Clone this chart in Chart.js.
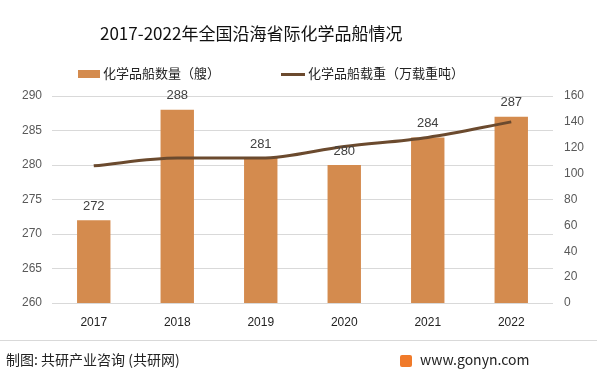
<!DOCTYPE html>
<html>
<head>
<meta charset="utf-8">
<script src="https://cdn.jsdelivr.net/npm/chart.js@4/dist/chart.umd.min.js"></script>
<style>
  html, body { margin:0; padding:0; background:#fff; }
  #wrap { position:relative; width:597px; height:374px; font-family:"Noto Sans CJK SC","Noto Sans",sans-serif; }
  #title { position:absolute; left:100px; top:20px; font-size:17px; color:#111; white-space:nowrap; }
  .lg { position:absolute; top:63px; font-size:13px; color:#222; white-space:nowrap; }
  .lg i { display:inline-block; vertical-align:middle; margin-right:3px; }
  #sep { position:absolute; left:0; top:340px; width:597px; height:1px; background:#d9d9d9; }
  #src { position:absolute; left:6px; top:349px; font-size:14px; color:#222; }
  #site { position:absolute; left:400px; top:349px; font-size:14px; color:#222; }
  #logo { display:inline-block; width:12px; height:12px; background:#f07a2a; border-radius:2px; vertical-align:middle; margin-right:8px; }
  canvas { position:absolute; left:0; top:0; }
</style>
</head>
<body>
<div id="wrap">
  <canvas id="c" width="597" height="374"></canvas>
  <div id="title">2017-2022年全国沿海省际化学品船情况</div>
  <div class="lg" style="left:78px"><i style="width:22px;height:8px;background:#d48b4e"></i>化学品船数量（艘）</div>
  <div class="lg" style="left:281px"><i style="width:24px;height:3px;background:#6b4a2e"></i>化学品船载重（万载重吨）</div>
  <div id="sep"></div>
  <div id="src">制图: 共研产业咨询 (共研网)</div>
  <div id="site"><span id="logo"></span>www.gonyn.com</div>
</div>
<script>
const years = ['2017','2018','2019','2020','2021','2022'];
const shipCount = [272, 288, 281, 280, 284, 287];
const shipTonnage = [106, 112, 112, 121, 128, 140];
const leftTicks = [260, 265, 270, 275, 280, 285, 290];
const rightTicks = [0, 20, 40, 60, 80, 100, 120, 140, 160];

const tickFont = { family: 'Liberation Sans, sans-serif', size: 12 };

const barLabels = {
  id: 'barLabels',
  afterDatasetsDraw(chart) {
    const ctx = chart.ctx;
    const meta = chart.getDatasetMeta(1);
    ctx.save();
    ctx.fillStyle = '#404040';
    ctx.font = '13px Liberation Sans, sans-serif';
    ctx.textAlign = 'center';
    ctx.textBaseline = 'middle';
    meta.data.forEach((bar, i) => {
      ctx.fillText(shipCount[i], bar.x, bar.y - 14);
    });
    ctx.restore();
  }
};

new Chart(document.getElementById('c'), {
  data: {
    labels: years,
    datasets: [{
      type: 'line',
      label: '化学品船载重（万载重吨）',
      data: shipTonnage,
      yAxisID: 'y1',
      borderColor: '#6b4a2e',
      borderWidth: 3,
      pointRadius: 0,
      cubicInterpolationMode: 'monotone',
      order: 0
    }, {
      type: 'bar',
      label: '化学品船数量（艘）',
      data: shipCount,
      yAxisID: 'y',
      backgroundColor: '#d48b4e',
      categoryPercentage: 1,
      barPercentage: 0.4,
      order: 1
    }]
  },
  options: {
    responsive: false,
    animation: false,
    layout: { padding: { top: 96, left: 0, right: 0, bottom: 0 } },
    plugins: { legend: { display: false }, tooltip: { enabled: false } },
    scales: {
      x: {
        grid: { display: false, drawTicks: false },
        border: { display: false },
        ticks: { color: '#222', font: tickFont, padding: 12 },
        afterFit(s) { s.height = 71; }
      },
      y: {
        position: 'left',
        min: 260, max: 290,
        afterBuildTicks(s) { s.ticks = leftTicks.map(v => ({ value: v })); },
        grid: { color: '#d9d9d9', drawTicks: false },
        border: { display: false },
        ticks: { color: '#595959', font: tickFont, padding: 10 },
        afterFit(s) { s.width = 52; }
      },
      y1: {
        position: 'right',
        min: 0, max: 160,
        afterBuildTicks(s) { s.ticks = rightTicks.map(v => ({ value: v })); },
        grid: { display: false, drawTicks: false },
        border: { display: false },
        ticks: { color: '#595959', font: tickFont, padding: 11 },
        afterFit(s) { s.width = 44; }
      }
    }
  },
  plugins: [barLabels]
});
</script>
</body>
</html>
